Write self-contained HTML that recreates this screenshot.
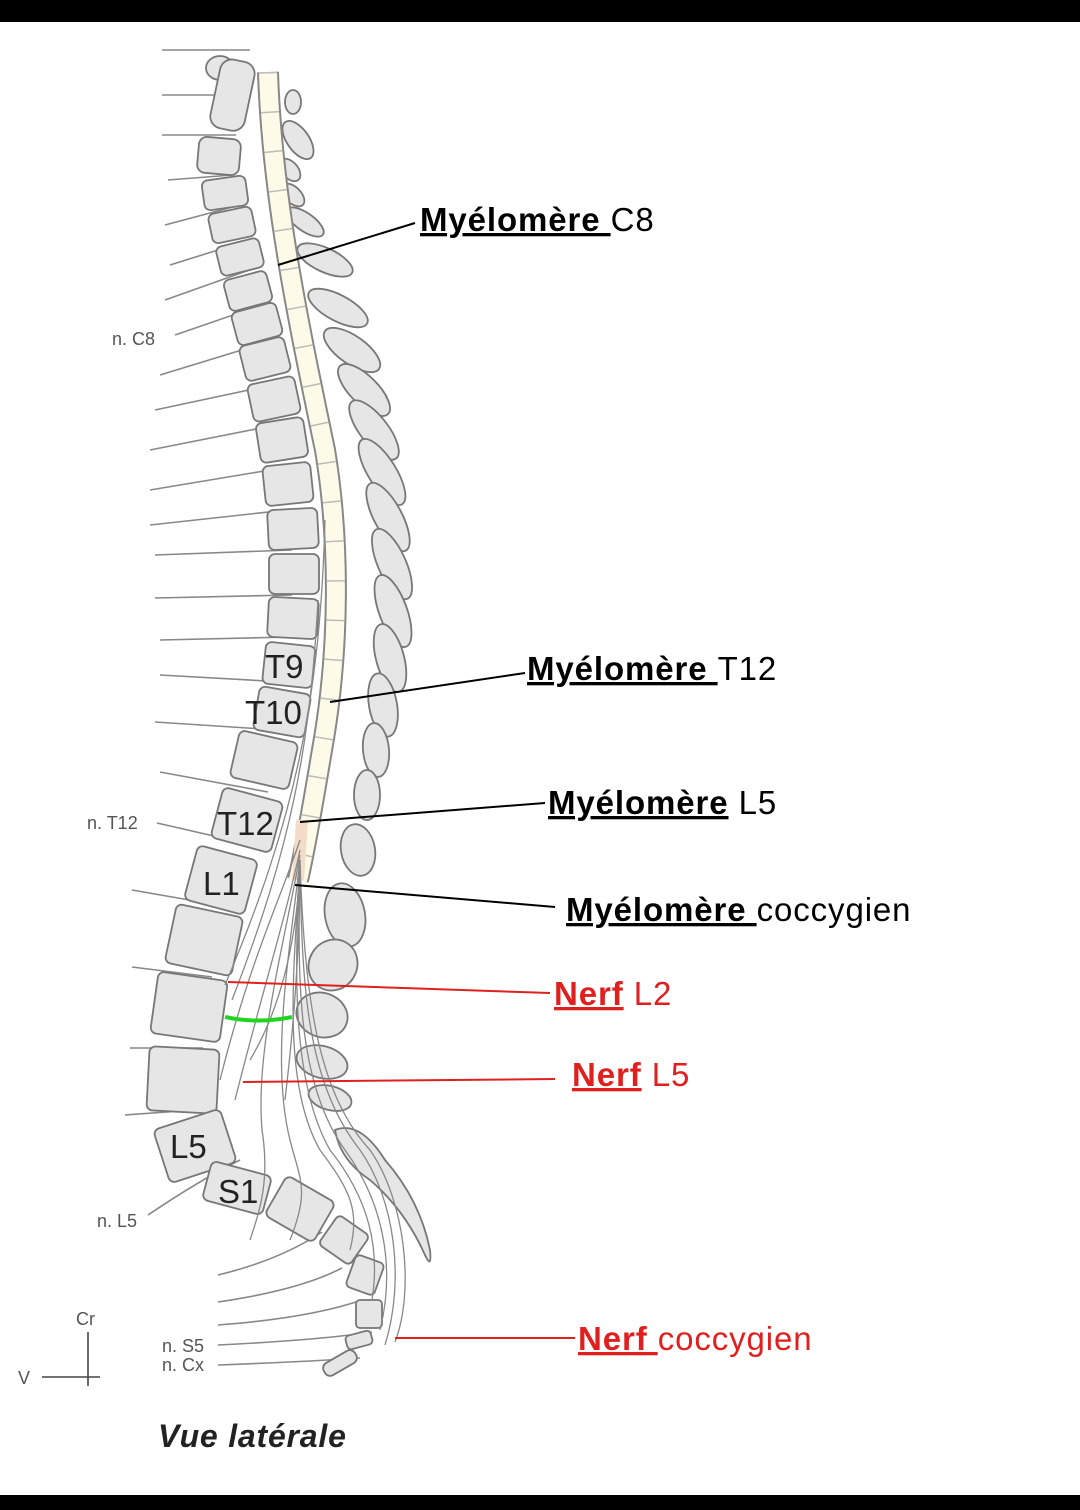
<!DOCTYPE html>
<html><head><meta charset="utf-8"><style>
html,body{margin:0;padding:0;background:#fff}
svg{display:block}
text{font-family:"Liberation Sans",sans-serif}
</style></head><body>
<svg width="1080" height="1510" viewBox="0 0 1080 1510" xmlns="http://www.w3.org/2000/svg">
<rect x="0" y="0" width="1080" height="1510" fill="#fff"/>
<rect x="0" y="0" width="1080" height="22" fill="#000"/>
<rect x="0" y="1495" width="1080" height="15" fill="#000"/>

<!-- left nerve lines -->
<g stroke="#888" stroke-width="1.6" fill="none">
<path d="M162 50 L250 50"/><path d="M162 95 L238 95"/><path d="M162 135 L236 135"/>
<path d="M168 180 L232 175"/><path d="M165 225 L240 205"/><path d="M170 265 L250 240"/>
<path d="M165 300 L255 268"/><path d="M175 335 L262 305"/><path d="M160 375 L268 342"/>
<path d="M155 410 L272 385"/><path d="M150 450 L276 425"/><path d="M150 490 L282 468"/>
<path d="M150 525 L287 510"/><path d="M155 555 L292 550"/><path d="M155 598 L292 595"/>
<path d="M160 640 L290 637"/><path d="M160 675 L285 682"/><path d="M155 722 L278 730"/>
<path d="M160 772 L268 792"/><path d="M157 823 L240 842"/><path d="M132 890 L218 905"/>
<path d="M132 967 L212 977"/><path d="M130 1048 L203 1048"/><path d="M125 1115 L195 1110"/>
<path d="M148 1215 Q200 1180 240 1160"/>
<path d="M218 1275 Q280 1260 322 1232"/><path d="M218 1302 Q300 1290 342 1268"/>
<path d="M218 1325 Q310 1318 362 1300"/><path d="M218 1345 Q320 1340 372 1332"/>
<path d="M218 1365 Q300 1362 360 1358"/>
</g>

<!-- vertebral bodies -->
<g fill="#e6e6e6" stroke="#777" stroke-width="1.8">
<ellipse cx="220" cy="68" rx="14" ry="12"/>
<rect x="215" y="60" width="35" height="70" rx="12" transform="rotate(12 232 95)"/>
<rect x="198" y="138" width="42" height="36" rx="8" transform="rotate(5 219 156)"/>
<rect x="203" y="178" width="44" height="30" rx="6" transform="rotate(-8 225 193)"/>
<rect x="210" y="210" width="44" height="30" rx="6" transform="rotate(-12 232 225)"/>
<rect x="218" y="242" width="44" height="30" rx="6" transform="rotate(-14 240 257)"/>
<rect x="226" y="275" width="44" height="32" rx="6" transform="rotate(-15 248 291)"/>
<rect x="234" y="307" width="46" height="34" rx="6" transform="rotate(-15 257 324)"/>
<rect x="242" y="341" width="46" height="36" rx="6" transform="rotate(-14 265 359)"/>
<rect x="250" y="380" width="48" height="38" rx="6" transform="rotate(-12 274 399)"/>
<rect x="258" y="420" width="48" height="40" rx="6" transform="rotate(-9 282 440)"/>
<rect x="264" y="464" width="48" height="40" rx="6" transform="rotate(-6 288 484)"/>
<rect x="268" y="509" width="50" height="40" rx="6" transform="rotate(-3 293 529)"/>
<rect x="269" y="554" width="50" height="40" rx="6"/>
<rect x="268" y="598" width="50" height="40" rx="6" transform="rotate(3 293 618)"/>
<rect x="264" y="644" width="50" height="42" rx="6" transform="rotate(6 289 665)"/>
<rect x="256" y="690" width="52" height="44" rx="6" transform="rotate(10 282 712)"/>
<rect x="234" y="736" width="60" height="48" rx="6" transform="rotate(13 264 760)"/>
<rect x="216" y="794" width="62" height="52" rx="6" transform="rotate(15 247 820)"/>
<rect x="190" y="852" width="62" height="56" rx="6" transform="rotate(15 221 880)"/>
<rect x="170" y="910" width="68" height="60" rx="6" transform="rotate(12 204 940)"/>
<rect x="154" y="976" width="70" height="62" rx="6" transform="rotate(8 189 1007)"/>
<rect x="148" y="1048" width="70" height="64" rx="6" transform="rotate(3 183 1080)"/>
<rect x="160" y="1118" width="70" height="56" rx="6" transform="rotate(-18 195 1146)"/>
<rect x="206" y="1168" width="62" height="40" rx="6" transform="rotate(15 237 1188)"/>
<rect x="272" y="1186" width="56" height="46" rx="6" transform="rotate(30 300 1209)"/>
<rect x="325" y="1222" width="38" height="36" rx="5" transform="rotate(35 344 1240)"/>
<rect x="350" y="1258" width="30" height="34" rx="5" transform="rotate(20 365 1275)"/>
<rect x="356" y="1300" width="26" height="28" rx="4"/>
<rect x="346" y="1333" width="26" height="14" rx="4" transform="rotate(-15 359 1340)"/>
<rect x="322" y="1356" width="36" height="14" rx="6" transform="rotate(-30 340 1363)"/>
</g>

<!-- spinous processes -->
<g fill="#e6e6e6" stroke="#777" stroke-width="1.8">
<ellipse cx="293" cy="102" rx="8" ry="12"/>
<ellipse cx="298" cy="140" rx="11" ry="22" transform="rotate(-35 298 140)"/>
<ellipse cx="290" cy="170" rx="8" ry="13" transform="rotate(-40 290 170)"/>
<ellipse cx="293" cy="195" rx="8" ry="14" transform="rotate(-45 293 195)"/>
<ellipse cx="305" cy="222" rx="9" ry="22" transform="rotate(-55 305 222)"/>
<ellipse cx="325" cy="260" rx="12" ry="30" transform="rotate(-65 325 260)"/>
<ellipse cx="338" cy="308" rx="13" ry="33" transform="rotate(-62 338 308)"/>
<ellipse cx="352" cy="350" rx="14" ry="33" transform="rotate(-55 352 350)"/>
<ellipse cx="364" cy="390" rx="14" ry="34" transform="rotate(-45 364 390)"/>
<ellipse cx="374" cy="430" rx="14" ry="36" transform="rotate(-38 374 430)"/>
<ellipse cx="382" cy="472" rx="14" ry="38" transform="rotate(-32 382 472)"/>
<ellipse cx="388" cy="517" rx="14" ry="38" transform="rotate(-28 388 517)"/>
<ellipse cx="392" cy="564" rx="14" ry="38" transform="rotate(-24 392 564)"/>
<ellipse cx="393" cy="611" rx="14" ry="38" transform="rotate(-20 393 611)"/>
<ellipse cx="390" cy="658" rx="14" ry="35" transform="rotate(-15 390 658)"/>
<ellipse cx="383" cy="705" rx="14" ry="32" transform="rotate(-10 383 705)"/>
<ellipse cx="376" cy="750" rx="13" ry="27" transform="rotate(-5 376 750)"/>
<ellipse cx="367" cy="795" rx="13" ry="25"/>
<ellipse cx="358" cy="850" rx="17" ry="26" transform="rotate(-10 358 850)"/>
<ellipse cx="345" cy="915" rx="20" ry="32" transform="rotate(-10 345 915)"/>
<ellipse cx="333" cy="965" rx="24" ry="26" transform="rotate(30 333 965)"/>
<ellipse cx="322" cy="1015" rx="26" ry="22" transform="rotate(20 322 1015)"/>
<ellipse cx="322" cy="1062" rx="26" ry="16" transform="rotate(15 322 1062)"/>
<ellipse cx="330" cy="1098" rx="22" ry="12" transform="rotate(15 330 1098)"/>
<path d="M335 1130 Q360 1120 385 1160 Q420 1200 430 1250 Q432 1270 425 1255 Q405 1210 370 1180 Q340 1160 335 1130 Z"/>
</g>

<!-- spinal cord -->
<path d="M268 72 C272 200 300 330 325 450 C340 540 340 650 322 750 C312 810 305 850 298 880" stroke="#888" stroke-width="22" fill="none"/>
<path d="M268 72 C272 200 300 330 325 450 C340 540 340 650 322 750 C312 810 305 850 298 880" stroke="#fdfbe8" stroke-width="18" fill="none"/>
<path d="M268 72 C272 200 300 330 325 450 C340 540 340 650 322 750 C312 810 305 850 298 880" stroke="#bbb" stroke-width="18" stroke-dasharray="1.5 38" fill="none"/>
<path d="M302 820 L298 880" stroke="#f3dcc8" stroke-width="12"/>

<!-- cauda equina -->
<g stroke="#888" stroke-width="1.3" fill="none">
<path d="M325 520 C320 700 295 820 225 985"/>
<path d="M318 600 C310 750 290 850 232 1000"/>
<path d="M300 840 C280 900 250 960 220 1080"/>
<path d="M300 850 C285 920 260 1000 235 1100"/>
<path d="M300 855 C285 940 255 1050 262 1130 C270 1180 260 1210 250 1240"/>
<path d="M300 860 C290 950 270 1060 290 1140 C300 1180 310 1190 290 1240"/>
<path d="M300 860 C295 960 280 1080 320 1150 C350 1190 360 1210 350 1250"/>
<path d="M300 865 C295 960 290 1080 330 1150 C370 1200 380 1250 372 1300"/>
<path d="M300 865 C298 970 295 1080 345 1150 C385 1205 395 1270 380 1330"/>
<path d="M300 865 C302 980 305 1080 360 1150 C395 1200 405 1280 385 1345"/>
<path d="M300 865 C305 990 315 1090 370 1150 C405 1200 415 1290 395 1342"/>
<path d="M300 860 C300 960 292 1040 285 1100"/>
<path d="M300 860 C298 940 280 1010 250 1060"/>
</g>

<!-- green arc -->
<path d="M225 1017 Q258 1024 292 1017" stroke="#22d422" stroke-width="4" fill="none"/>

<!-- leader lines -->
<g stroke="#000" stroke-width="2" fill="none">
<path d="M278 265 L415 223"/>
<path d="M330 702 L525 673"/>
<path d="M300 822 L545 803"/>
<path d="M295 885 L555 907"/>
</g>
<g stroke="#e0201e" stroke-width="2" fill="none">
<path d="M228 982 L550 993"/>
<path d="M243 1082 L555 1079"/>
<path d="M395 1338 L575 1338"/>
</g>

<!-- labels -->
<g font-size="33" letter-spacing="0.9">
<text x="420" y="231"><tspan font-weight="bold" text-decoration="underline">Myélomère </tspan>C8</text>
<text x="527" y="680"><tspan font-weight="bold" text-decoration="underline">Myélomère </tspan>T12</text>
<text x="548" y="814"><tspan font-weight="bold" text-decoration="underline">Myélomère</tspan> L5</text>
<text x="566" y="921"><tspan font-weight="bold" text-decoration="underline">Myélomère </tspan>coccygien</text>
<text x="554" y="1005" fill="#e0201e"><tspan font-weight="bold" text-decoration="underline">Nerf</tspan> L2</text>
<text x="572" y="1086" fill="#e0201e"><tspan font-weight="bold" text-decoration="underline">Nerf</tspan> L5</text>
<text x="578" y="1350" fill="#e0201e"><tspan font-weight="bold" text-decoration="underline">Nerf </tspan>coccygien</text>
</g>
<g font-size="33" fill="#222">
<text x="265" y="678">T9</text>
<text x="245" y="724">T10</text>
<text x="217" y="835">T12</text>
<text x="203" y="895">L1</text>
<text x="170" y="1158">L5</text>
<text x="218" y="1203">S1</text>
</g>
<g font-size="18" fill="#555">
<text x="112" y="345">n. C8</text>
<text x="87" y="829">n. T12</text>
<text x="97" y="1227">n. L5</text>
<text x="162" y="1352">n. S5</text>
<text x="162" y="1371">n. Cx</text>
<text x="76" y="1325">Cr</text>
<text x="18" y="1384">V</text>
</g>
<g stroke="#444" stroke-width="1.6">
<path d="M88 1332 L88 1386"/><path d="M42 1377 L100 1377"/>
</g>
<text x="158" y="1447" font-size="32" font-weight="bold" font-style="italic" fill="#222" letter-spacing="0.8">Vue latérale</text>
</svg>
</body></html>
